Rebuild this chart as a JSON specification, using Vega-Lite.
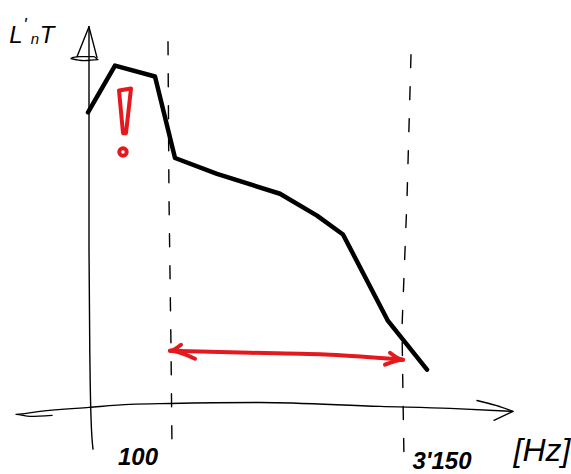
{
  "$schema": "https://vega.github.io/schema/vega-lite/v6.json",
  "width": 571,
  "height": 474,
  "autosize": {"type": "fit", "contains": "padding"},
  "padding": 0,
  "background": "white",
  "config": {"view": {"stroke": null}},
  "datasets": {
    "axes": [
      {"id": "yaxis", "i": 0, "x": 89, "y": 27},
      {"id": "yaxis", "i": 1, "x": 89, "y": 120},
      {"id": "yaxis", "i": 2, "x": 89, "y": 250},
      {"id": "yaxis", "i": 3, "x": 90, "y": 370},
      {"id": "yaxis", "i": 4, "x": 91, "y": 420},
      {"id": "yaxis", "i": 5, "x": 93, "y": 452},
      {"id": "yarrowL", "i": 0, "x": 89, "y": 27},
      {"id": "yarrowL", "i": 1, "x": 77, "y": 57},
      {"id": "yarrowR", "i": 0, "x": 89, "y": 27},
      {"id": "yarrowR", "i": 1, "x": 97, "y": 58},
      {"id": "yarrowB", "i": 0, "x": 71, "y": 59},
      {"id": "yarrowB", "i": 1, "x": 84, "y": 61},
      {"id": "yarrowB", "i": 2, "x": 98, "y": 60},
      {"id": "yarrowB", "i": 3, "x": 94, "y": 57},
      {"id": "yarrowB", "i": 4, "x": 80, "y": 57},
      {"id": "yarrowB", "i": 5, "x": 72, "y": 58},
      {"id": "xaxis", "i": 0, "x": 52, "y": 418},
      {"id": "xaxis", "i": 1, "x": 30, "y": 419},
      {"id": "xaxis", "i": 2, "x": 16, "y": 417},
      {"id": "xaxis", "i": 3, "x": 40, "y": 414},
      {"id": "xaxis", "i": 4, "x": 89, "y": 410},
      {"id": "xaxis", "i": 5, "x": 130, "y": 407},
      {"id": "xaxis", "i": 6, "x": 170, "y": 406},
      {"id": "xaxis", "i": 7, "x": 260, "y": 405},
      {"id": "xaxis", "i": 8, "x": 380, "y": 409},
      {"id": "xaxis", "i": 9, "x": 450, "y": 411},
      {"id": "xaxis", "i": 10, "x": 512, "y": 414},
      {"id": "xarrowU", "i": 0, "x": 477, "y": 403},
      {"id": "xarrowU", "i": 1, "x": 496, "y": 408},
      {"id": "xarrowU", "i": 2, "x": 513, "y": 414},
      {"id": "xarrowL", "i": 0, "x": 513, "y": 414},
      {"id": "xarrowL", "i": 1, "x": 494, "y": 423}
    ],
    "dashes": [
      {"id": "f100", "i": 0, "x": 168, "y": 42},
      {"id": "f100", "i": 1, "x": 169, "y": 200},
      {"id": "f100", "i": 2, "x": 171, "y": 350},
      {"id": "f100", "i": 3, "x": 172, "y": 450},
      {"id": "f3150", "i": 0, "x": 411, "y": 55},
      {"id": "f3150", "i": 1, "x": 407, "y": 200},
      {"id": "f3150", "i": 2, "x": 402, "y": 330},
      {"id": "f3150", "i": 3, "x": 403, "y": 400},
      {"id": "f3150", "i": 4, "x": 404, "y": 462}
    ],
    "curve": [
      {"i": 0, "x": 88, "y": 113},
      {"i": 1, "x": 115, "y": 66},
      {"i": 2, "x": 155, "y": 77},
      {"i": 3, "x": 175, "y": 159},
      {"i": 4, "x": 217, "y": 175},
      {"i": 5, "x": 280, "y": 195},
      {"i": 6, "x": 317, "y": 217},
      {"i": 7, "x": 343, "y": 236},
      {"i": 8, "x": 388, "y": 323},
      {"i": 9, "x": 427, "y": 372}
    ],
    "redarrow": [
      {"id": "shaft", "i": 0, "x": 170, "y": 353},
      {"id": "shaft", "i": 1, "x": 250, "y": 355},
      {"id": "shaft", "i": 2, "x": 330, "y": 357},
      {"id": "shaft", "i": 3, "x": 403, "y": 362},
      {"id": "headL", "i": 0, "x": 181, "y": 347},
      {"id": "headL", "i": 1, "x": 170, "y": 353},
      {"id": "headL", "i": 2, "x": 195, "y": 361},
      {"id": "headR", "i": 0, "x": 390, "y": 355},
      {"id": "headR", "i": 1, "x": 403, "y": 362},
      {"id": "headR", "i": 2, "x": 385, "y": 367}
    ],
    "bang": [
      {"i": 0, "x": 119, "y": 91},
      {"i": 1, "x": 131, "y": 89},
      {"i": 2, "x": 126, "y": 134},
      {"i": 3, "x": 123, "y": 134},
      {"i": 4, "x": 119, "y": 91}
    ],
    "dot": [{"x": 123, "y": 153}],
    "big": [
      {"t": "L", "x": 16, "y": 43},
      {"t": "T", "x": 47, "y": 43}
    ],
    "small": [
      {"t": "n", "x": 35, "y": 44}
    ],
    "prime": [
      {"t": "'", "x": 25, "y": 31}
    ],
    "ticks": [
      {"t": "100", "x": 138, "y": 468},
      {"t": "3'150", "x": 442, "y": 472}
    ],
    "unit": [
      {"t": "[Hz]", "x": 542, "y": 464}
    ]
  },
  "layer": [
    {
      "data": {"name": "dashes"},
      "mark": {"type": "line", "color": "black", "strokeWidth": 1.4, "strokeDash": [13, 19], "strokeCap": "round"},
      "encoding": {
        "x": {"field": "x", "type": "quantitative", "scale": {"domain": [0, 571], "nice": false, "zero": false}, "axis": null},
        "y": {"field": "y", "type": "quantitative", "scale": {"domain": [0, 474], "nice": false, "zero": false, "reverse": true}, "axis": null},
        "detail": {"field": "id"},
        "order": {"field": "i"}
      }
    },
    {
      "data": {"name": "axes"},
      "mark": {"type": "line", "color": "black", "strokeWidth": 1.4, "strokeCap": "round", "strokeJoin": "round", "interpolate": "monotone"},
      "encoding": {
        "x": {"field": "x", "type": "quantitative", "axis": null},
        "y": {"field": "y", "type": "quantitative", "axis": null},
        "detail": {"field": "id"},
        "order": {"field": "i"}
      }
    },
    {
      "data": {"name": "curve"},
      "mark": {"type": "line", "color": "black", "strokeWidth": 4.5, "strokeCap": "round", "strokeJoin": "round"},
      "encoding": {
        "x": {"field": "x", "type": "quantitative", "axis": null},
        "y": {"field": "y", "type": "quantitative", "axis": null},
        "order": {"field": "i"}
      }
    },
    {
      "data": {"name": "redarrow"},
      "mark": {"type": "line", "color": "#e3191f", "strokeWidth": 4, "strokeCap": "round", "strokeJoin": "round", "interpolate": "monotone"},
      "encoding": {
        "x": {"field": "x", "type": "quantitative", "axis": null},
        "y": {"field": "y", "type": "quantitative", "axis": null},
        "detail": {"field": "id"},
        "order": {"field": "i"}
      }
    },
    {
      "data": {"name": "bang"},
      "mark": {"type": "line", "color": "#e3191f", "strokeWidth": 4, "strokeCap": "round", "strokeJoin": "round"},
      "encoding": {
        "x": {"field": "x", "type": "quantitative", "axis": null},
        "y": {"field": "y", "type": "quantitative", "axis": null},
        "order": {"field": "i"}
      }
    },
    {
      "data": {"name": "dot"},
      "mark": {"type": "point", "shape": "circle", "filled": false, "color": "#e3191f", "strokeWidth": 4, "size": 55, "opacity": 1},
      "encoding": {
        "x": {"field": "x", "type": "quantitative", "axis": null},
        "y": {"field": "y", "type": "quantitative", "axis": null}
      }
    },
    {
      "data": {"name": "big"},
      "mark": {"type": "text", "font": "Liberation Sans", "fontStyle": "italic", "fontSize": 24, "align": "center", "baseline": "alphabetic", "color": "black"},
      "encoding": {
        "x": {"field": "x", "type": "quantitative", "axis": null},
        "y": {"field": "y", "type": "quantitative", "axis": null},
        "text": {"field": "t"}
      }
    },
    {
      "data": {"name": "small"},
      "mark": {"type": "text", "font": "Liberation Sans", "fontStyle": "italic", "fontSize": 15, "align": "center", "baseline": "alphabetic", "color": "black"},
      "encoding": {
        "x": {"field": "x", "type": "quantitative", "axis": null},
        "y": {"field": "y", "type": "quantitative", "axis": null},
        "text": {"field": "t"}
      }
    },
    {
      "data": {"name": "prime"},
      "mark": {"type": "text", "font": "Liberation Sans", "fontStyle": "italic", "fontSize": 18, "align": "center", "baseline": "alphabetic", "color": "black"},
      "encoding": {
        "x": {"field": "x", "type": "quantitative", "axis": null},
        "y": {"field": "y", "type": "quantitative", "axis": null},
        "text": {"field": "t"}
      }
    },
    {
      "data": {"name": "ticks"},
      "mark": {"type": "text", "font": "Liberation Sans", "fontStyle": "italic", "fontWeight": "bold", "fontSize": 24, "align": "center", "baseline": "alphabetic", "color": "black"},
      "encoding": {
        "x": {"field": "x", "type": "quantitative", "axis": null},
        "y": {"field": "y", "type": "quantitative", "axis": null},
        "text": {"field": "t"}
      }
    },
    {
      "data": {"name": "unit"},
      "mark": {"type": "text", "font": "Liberation Sans", "fontStyle": "italic", "fontSize": 32, "align": "center", "baseline": "alphabetic", "color": "black"},
      "encoding": {
        "x": {"field": "x", "type": "quantitative", "axis": null},
        "y": {"field": "y", "type": "quantitative", "axis": null},
        "text": {"field": "t"}
      }
    }
  ]
}
